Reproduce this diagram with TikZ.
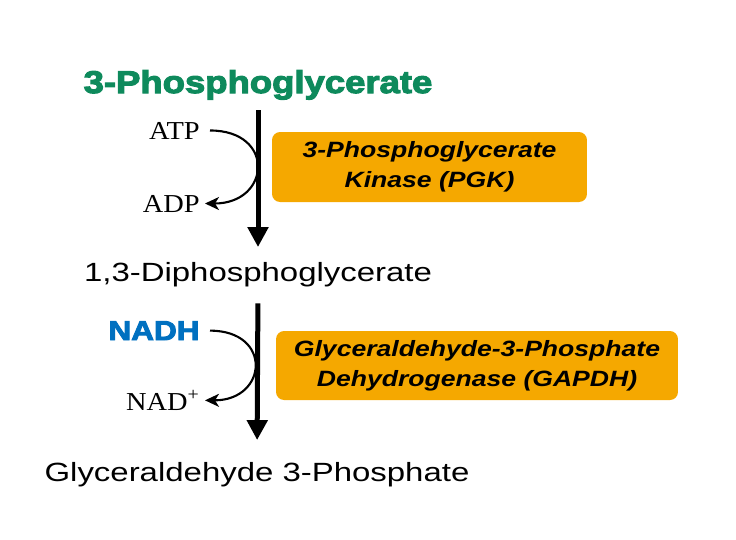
\documentclass[tikz,border=0pt]{standalone}
\usepackage{fontspec}
\setmainfont{Liberation Sans}
\newfontfamily\titlefont[FakeStretch=1.16,FakeBold=3.5]{Liberation Sans}
\newfontfamily\enzymefont[FakeStretch=1.2]{Liberation Sans}
\newfontfamily\compoundfont[FakeStretch=1.25]{Liberation Sans}
\newfontfamily\cofactorfont[FakeStretch=1.1]{Liberation Serif}
\usetikzlibrary{arrows.meta}

\definecolor{pgagreen}{RGB}{14,138,92}
\definecolor{nadhblue}{RGB}{0,112,192}
\definecolor{enzymeorange}{RGB}{245,168,0}

\tikzset{
    compound/.style={inner sep=0pt, anchor=base,
        font=\compoundfont\fontsize{15}{18}\selectfont},
    cofactor/.style={inner sep=0pt, anchor=base east,
        font=\cofactorfont\fontsize{14.7}{17}\selectfont},
    enzyme/.style={fill=enzymeorange, rounded corners=0.16cm,
        align=center, inner sep=0pt,
        font=\enzymefont\bfseries\itshape\fontsize{12.6}{17}\selectfont},
    reaction/.style={line width=0.1cm,
        -{Triangle[length=0.4cm,width=0.4cm]}},
    side/.style={line width=1.2pt,
        -{Stealth[length=0.28cm,width=0.26cm,inset=0.08cm]}, looseness=2.3}
}

\begin{document}
\begin{tikzpicture}[x=0.02cm,y=-0.02cm]
    \useasboundingbox (0,0) rectangle (736,539);

    % Verbindungen
    \node[compound, text=pgagreen,
        font=\titlefont\bfseries\fontsize{17.9}{20}\selectfont]
        (pga) at (258,93) {3-Phosphoglycerate};
    \node[compound] (bpg) at (258,281) {1,3-Diphosphoglycerate};
    \node[compound] (gap) at (257,481) {Glyceraldehyde 3-Phosphate};

    % Hauptpfeile
    \draw[reaction, shorten <=0.2cm, shorten >=0.29cm]
        (pga.south) -- (bpg.north);
    \draw[reaction, shorten <=0.33cm, shorten >=0.43cm]
        (bpg.south) -- (gap.north);

    % Kofaktoren
    \node[cofactor] (atp) at (200,139) {ATP};
    \node[cofactor] (adp) at (200,212) {ADP};
    \node[cofactor, text=nadhblue,
        font=\titlefont\bfseries\fontsize{15.5}{18}\selectfont]
        (nadh) at (200,340) {NADH};
    \node[cofactor] (nad) at (200,410) {NAD\textsuperscript{+}};

    \draw[side] ([xshift=0.2cm]atp.east) to[out=0, in=0] ([xshift=0.1cm]adp.east);
    \draw[side] ([xshift=0.2cm]nadh.east) to[out=0, in=0] ([xshift=0.1cm]nad.east);

    % Enzyme
    \node[enzyme, minimum width=6.3cm, minimum height=1.4cm]
        (pgk) at (429.5,167) {3-Phosphoglycerate\\Kinase (PGK)};
    \node[enzyme, minimum width=8.04cm, minimum height=1.38cm]
        (gapdh) at (477,365.5) {Glyceraldehyde-3-Phosphate\\Dehydrogenase (GAPDH)};
\end{tikzpicture}
\end{document}
